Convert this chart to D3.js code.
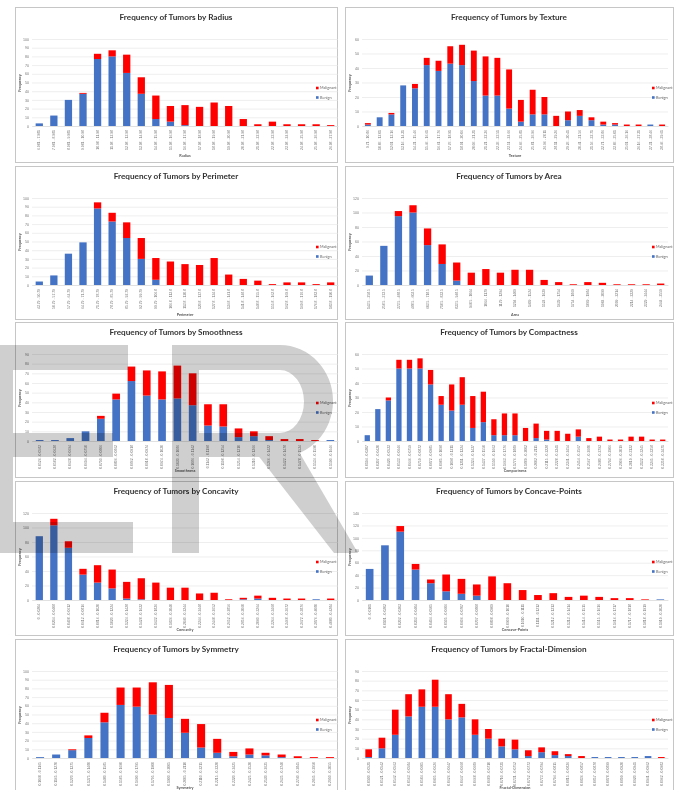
<!DOCTYPE html>
<html>
<head>
<meta charset="utf-8">
<script src="https://cdn.jsdelivr.net/npm/d3@7/dist/d3.min.js"></script>
<style>
body { margin: 0; background: #fff; }
svg { display: block; font-family: Lato, "Open Sans", sans-serif; }
</style>
</head>
<body>
<div id="chart"></div>
<script>
// bin edges (tick labels are "lo - hi")
var radiusEdges = ["6.981","7.981","8.981","9.981","10.98","11.98","12.98","13.98","14.98","15.98","16.98","17.98","18.98","19.98","20.98","21.98","22.98","23.98","24.98","25.98","26.98","27.98"];
var textureEdges = ["9.71","10.86","12.01","13.16","14.31","15.46","16.61","17.76","18.91","20.06","21.21","22.36","23.51","24.66","25.81","26.96","28.11","29.26","30.41","31.56","32.71","33.86","35.01","36.16","37.31","38.46","39.61"];
var perimeterEdges = ["43.79","50.79","57.79","64.79","71.79","78.79","85.79","92.79","99.79","106.8","113.8","120.8","127.8","134.8","141.8","148.8","155.8","162.8","169.8","176.8","183.8","190.8"];
var areaEdges = ["143.5","258.5","373.5","488.5","603.5","718.5","833.5","948.5","1064","1179","1294","1409","1524","1639","1754","1869","1984","2099","2214","2329","2444","2559"];
var smoothEdges = ["0.0526","0.0582","0.0638","0.0694","0.0750","0.0806","0.0862","0.0918","0.0974","0.1030","0.1086","0.1142","0.1198","0.1254","0.1310","0.1366","0.1422","0.1478","0.1534","0.1590","0.1646"];
var compactEdges = ["0.0194","0.0307","0.0420","0.0533","0.0646","0.0759","0.0872","0.0985","0.1098","0.1211","0.1324","0.1437","0.1550","0.1663","0.1776","0.1889","0.2002","0.2115","0.2228","0.2341","0.2454","0.2567","0.2680","0.2793","0.2906","0.3019","0.3132","0.3245","0.3358","0.3471"];
var concavityEdges = ["0","0.0204","0.0408","0.0612","0.0816","0.1020","0.1224","0.1428","0.1632","0.1836","0.2040","0.2244","0.2448","0.2652","0.2856","0.3060","0.3264","0.3468","0.3672","0.3876","0.4080","0.4284"];
var concaveEdges = ["0","0.0101","0.0202","0.0303","0.0404","0.0505","0.0606","0.0707","0.0808","0.0909","0.1010","0.1111","0.1212","0.1313","0.1414","0.1515","0.1616","0.1717","0.1818","0.1919","0.2020"];
var symmetryEdges = ["0.1060","0.1165","0.1270","0.1375","0.1480","0.1585","0.1690","0.1795","0.1900","0.2005","0.2110","0.2215","0.2320","0.2425","0.2530","0.2635","0.2740","0.2845","0.2950","0.3055"];
var fractalEdges = ["0.0500","0.0521","0.0542","0.0563","0.0584","0.0605","0.0626","0.0647","0.0668","0.0689","0.0710","0.0731","0.0752","0.0773","0.0794","0.0815","0.0836","0.0857","0.0878","0.0899","0.0920","0.0941","0.0962","0.0983"];

// counts per bin
var radiusBenign = [3,12,30,37,77,80,61,37,8,5,1,0,0,0,0,0,0,0,0,0,0];
var radiusMalignant = [0,0,0,1,6,7,21,19,27,18,23,22,27,23,8,2,5,2,2,2,1];
var textureBenign = [1,6,8,28,26,42,38,43,42,31,21,21,12,3,8,8,0,4,7,4,1,1,0,0,1,0];
var textureMalignant = [1,0,1,0,3,5,7,12,14,21,27,26,27,15,17,12,7,6,4,2,2,1,1,1,0,1];
var perimeterBenign = [4,11,36,49,88,73,54,30,6,0,0,0,0,0,0,0,0,0,0,0,0];
var perimeterMalignant = [0,0,0,0,7,10,18,24,25,27,24,23,31,12,7,5,1,3,3,1,3];
var areaBenign = [13,54,95,100,55,29,6,0,0,0,0,0,0,0,0,0,0,0,0,0,0];
var areaMalignant = [0,0,7,10,23,27,25,17,22,17,21,21,7,4,1,4,3,1,1,1,2];
var smoothBenign = [1,1,3,10,23,43,62,47,43,44,37,16,15,4,5,1,0,0,0,1];
var smoothMalignant = [0,0,0,0,3,6,15,26,29,34,33,22,23,9,5,4,2,2,1,0];
var compactBenign = [4,22,28,50,50,50,39,25,21,25,9,13,4,4,4,0,2,1,0,0,3,0,0,0,0,0,0,0,0];
var compactMalignant = [0,0,2,6,6,7,10,6,18,19,22,21,11,15,15,9,10,6,7,5,5,2,3,1,1,3,3,1,1];
var concavityBenign = [88,103,72,35,24,16,2,1,0,0,0,0,0,0,1,2,0,0,0,1,0];
var concavityMalignant = [0,9,9,8,24,26,23,29,24,17,17,9,10,1,2,4,3,2,2,0,2];
var concaveBenign = [50,88,110,49,27,14,10,7,0,0,0,0,0,0,0,0,0,0,0,1];
var concaveMalignant = [0,0,9,9,6,27,24,18,38,27,16,8,11,5,7,5,3,3,1,0];
var symmetryBenign = [1,4,9,23,41,61,59,50,46,29,12,6,2,4,3,1,0,0,0];
var symmetryMalignant = [0,0,1,3,11,20,22,37,38,16,27,16,5,7,3,3,2,1,1];
var fractalBenign = [1,10,24,43,53,53,40,42,24,20,12,9,2,6,3,2,0,1,1,1,1,2,0];
var fractalMalignant = [8,11,26,23,18,28,26,14,16,10,8,10,6,5,4,2,2,0,0,0,0,0,1];

var names = ["Radius","Texture","Perimeter","Area","Smoothness","Compactness","Concavity","Concave-Points","Symmetry","Fractal-Dimension"];
var yMax = [100,60,100,120,90,60,120,140,100,90];
var yStep = [10,10,10,20,10,10,20,20,10,10];
var legendKeys = ["Malignant","Benign"];

var charts = [
  {edges: radiusEdges, benign: radiusBenign, malignant: radiusMalignant},
  {edges: textureEdges, benign: textureBenign, malignant: textureMalignant},
  {edges: perimeterEdges, benign: perimeterBenign, malignant: perimeterMalignant},
  {edges: areaEdges, benign: areaBenign, malignant: areaMalignant},
  {edges: smoothEdges, benign: smoothBenign, malignant: smoothMalignant},
  {edges: compactEdges, benign: compactBenign, malignant: compactMalignant},
  {edges: concavityEdges, benign: concavityBenign, malignant: concavityMalignant},
  {edges: concaveEdges, benign: concaveBenign, malignant: concaveMalignant},
  {edges: symmetryEdges, benign: symmetryBenign, malignant: symmetryMalignant},
  {edges: fractalEdges, benign: fractalBenign, malignant: fractalMalignant}
];

var blue = "#4472c4", red = "#ff0000";
var colX = [15, 345], colW = [322, 328];
var rowY = [7, 166, 322, 481, 639], rowH = [155, 153, 155, 154, 155];

var svg = d3.select("#chart").append("svg")
  .attr("width", 678)
  .attr("height", 790);

charts.forEach(function(c, i) {
  var col = i % 2, row = Math.floor(i / 2);
  var pw = colW[col], ph = rowH[row];
  var g = svg.append("g")
    .attr("transform", "translate(" + colX[col] + "," + rowY[row] + ")");

  g.append("rect")
    .attr("x", 0.5).attr("y", 0.5)
    .attr("width", pw).attr("height", ph)
    .attr("fill", "#fff")
    .attr("stroke", "#c6c6c6");

  var labels = c.edges.slice(0, -1).map(function(e, k) { return e + " - " + c.edges[k + 1]; });
  var rows = labels.map(function(l, k) {
    return {label: l, benign: c.benign[k], malignant: c.malignant[k]};
  });

  var x = d3.scaleBand().domain(labels).range([17, 323]).paddingInner(0.5).paddingOuter(0.25);
  var y = d3.scaleLinear().domain([0, yMax[i]]).range([119, 32]);

  // gridlines + y tick labels
  var ya = g.append("g")
    .attr("transform", "translate(17,0)")
    .call(d3.axisLeft(y).tickValues(d3.range(0, yMax[i] + 1, yStep[i])).tickSize(-306).tickPadding(3));
  ya.select(".domain").remove();
  ya.selectAll("line").attr("stroke", "#e3e3e3").attr("stroke-width", 0.6);
  ya.selectAll("text").attr("font-size", 3.6).attr("fill", "#777");

  // x axis with rotated bin labels
  var xa = g.append("g")
    .attr("transform", "translate(0,119)")
    .call(d3.axisBottom(x).tickSize(0));
  xa.select(".domain").attr("stroke", "#d9d9d9").attr("stroke-width", 0.6);
  xa.selectAll("text")
    .attr("transform", "rotate(-90)")
    .attr("x", -4).attr("y", 0).attr("dy", "0.35em")
    .style("text-anchor", "end")
    .attr("font-size", 3.4)
    .attr("fill", "#777");

  var stack = d3.stack().keys(["benign", "malignant"])(rows);
  g.selectAll(".series")
    .data(stack)
    .enter().append("g")
    .attr("fill", function(d) { return d.key == "benign" ? blue : red; })
    .selectAll("rect")
    .data(function(d) { return d; })
    .enter().append("rect")
    .attr("x", function(d) { return x(d.data.label); })
    .attr("width", x.bandwidth())
    .attr("y", function(d) { return y(d[1]); })
    .attr("height", function(d) { return y(d[0]) - y(d[1]); });

  // title
  g.append("text")
    .attr("x", pw / 2).attr("y", 13)
    .attr("text-anchor", "middle")
    .attr("font-size", 8.2)
    .attr("font-weight", "bold")
    .attr("fill", "#333")
    .text("Frequency of Tumors by " + names[i]);

  // axis titles
  g.append("text")
    .attr("x", 170).attr("y", 150)
    .attr("text-anchor", "middle")
    .attr("font-size", 3.8)
    .attr("font-weight", "bold")
    .attr("fill", "#555")
    .text(names[i]);
  g.append("text")
    .attr("transform", "translate(6,76) rotate(-90)")
    .attr("text-anchor", "middle")
    .attr("font-size", 3.8)
    .attr("font-weight", "bold")
    .attr("fill", "#555")
    .text("Frequency");

  // legend
  var lg = g.append("g").attr("transform", "translate(" + (pw - 21) + ",81)");
  legendKeys.forEach(function(k, j) {
    lg.append("rect")
      .attr("x", 0).attr("y", j * 9.5 - 1.3)
      .attr("width", 2.6).attr("height", 2.6)
      .attr("fill", k == "Malignant" ? red : blue);
    lg.append("text")
      .attr("x", 4).attr("y", j * 9.5)
      .attr("dy", "0.35em")
      .attr("font-size", 3.8)
      .attr("fill", "#666")
      .text(k);
  });
});

// watermark letters over the middle rows
var wm = svg.append("g")
  .attr("fill", "#cfcfcf")
  .style("mix-blend-mode", "multiply");
wm.append("path").attr("d",
  "M0,345H128V370H13V433H113V457H13V522H133V553H0Z");
wm.append("path").attr("fill-rule", "evenodd").attr("d",
  "M172,345H280A53,56 0 0 1 280,457H199V553H172Z" +
  "M199,370H280A24,31.5 0 0 1 280,433H199Z");
wm.append("path").attr("d", "M250,445H295L358,553H334Z");
</script>
</body>
</html>
